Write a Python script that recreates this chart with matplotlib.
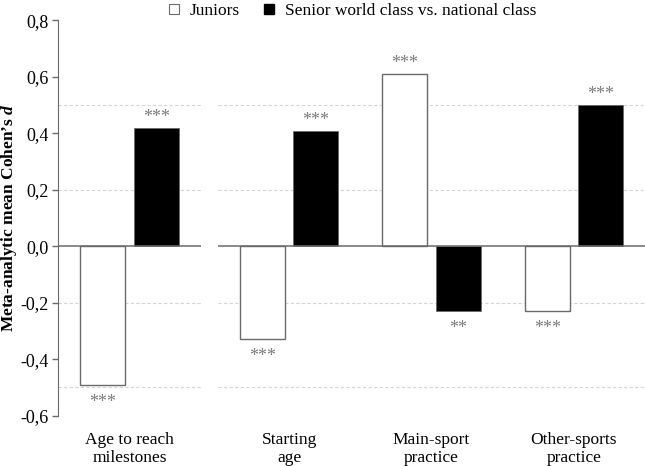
import matplotlib
matplotlib.use("Agg")
from matplotlib import pyplot as plt
from matplotlib import rcParams
from matplotlib.lines import Line2D

rcParams["font.family"] = ["Liberation Serif", "DejaVu Serif"]
rcParams["mathtext.fontset"] = "custom"
rcParams["mathtext.rm"] = "Liberation Serif"
rcParams["mathtext.it"] = "Liberation Serif:italic"
rcParams["mathtext.bf"] = "Liberation Serif:bold"
rcParams["mathtext.bfit"] = "Liberation Serif:bold:italic"

darkgray = "#6a6a6a"
gridgray = "#d4d4d4"
stargray = "#7a7a7a"

categories = ["Age to reach\nmilestones", "Starting\nage", "Main-sport\npractice", "Other-sports\npractice"]
juniors = [-0.49, -0.33, 0.61, -0.23]
seniors = [0.42, 0.41, -0.23, 0.50]
juniors_sig = ["***", "***", "***", "***"]
seniors_sig = ["***", "***", "**", "***"]
yticks = [-0.6, -0.4, -0.2, 0.0, 0.2, 0.4, 0.6, 0.8]
ytick_labels = ["-0,6", "-0,4", "-0,2", "0,0", "0,2", "0,4", "0,6", "0,8"]
gridlines = [-0.5, -0.2, 0.2, 0.5]

fig = plt.figure(figsize=(6.45, 4.66), dpi=100)
W, H = 645, 466
bottom, height = 50.3 / H, 395.3 / H
ax_left = fig.add_axes([58 / W, bottom, 143 / W, height])
ax_right = fig.add_axes([218 / W, bottom, 427 / W, height])

width = 0.317
offset = 0.187

panels = [(ax_left, slice(0, 1)), (ax_right, slice(1, 4))]
for ax, sl in panels:
    cats = categories[sl]
    jun = juniors[sl]
    sen = seniors[sl]
    jsig = juniors_sig[sl]
    ssig = seniors_sig[sl]
    x = list(range(len(cats)))

    for g in gridlines:
        ax.axhline(g, color=gridgray, lw=0.8, ls=(0, (3, 2)), zorder=0)
    ax.axhline(0, color=darkgray, lw=1.1, zorder=3)

    ax.bar([i - offset for i in x], jun, width, color="white", edgecolor=darkgray, lw=1, zorder=2)
    ax.bar([i + offset for i in x], sen, width, color="black", edgecolor=darkgray, lw=0.6, zorder=2)

    for xs, vals, sigs in [([i - offset for i in x], jun, jsig), ([i + offset for i in x], sen, ssig)]:
        for xi, v, s in zip(xs, vals, sigs):
            ax.annotate(s, (xi, v), xytext=(0, 7.5 if v > 0 else -12.5), textcoords="offset points",
                        ha="center", va="center", color=stargray, fontsize=13)

    ax.set_xlim(-0.5, len(cats) - 0.5)
    ax.set_ylim(-0.6, 0.8)
    ax.set_xticks(x)
    ax.set_xticklabels(cats, fontsize=12.5, linespacing=1.12)
    ax.tick_params(axis="x", length=0, pad=12)
    for sp in ["top", "right", "bottom"]:
        ax.spines[sp].set_visible(False)

ax_right.spines["left"].set_visible(False)
ax_right.set_yticks([])

ax_left.set_yticks(yticks)
ax_left.set_yticklabels(ytick_labels, fontsize=13)
ax_left.spines["left"].set_color(darkgray)
ax_left.tick_params(axis="y", length=4, width=1, color=darkgray, pad=3)

fig.text(9 / W, 1 - 217.5 / H, "Meta-analytic mean Cohen\u2019s $\\mathbfit{d}$", rotation=90,
         ha="center", va="center", fontsize=12.5, fontweight="bold")

handles = [
    Line2D([], [], marker="s", ls="none", markersize=7, markerfacecolor="white", markeredgecolor=darkgray, markeredgewidth=0.8),
    Line2D([], [], marker="s", ls="none", markersize=7, markerfacecolor="black", markeredgecolor="black"),
]
fig.legend(handles, ["Juniors", "Senior world class vs. national class"], loc="upper center",
           bbox_to_anchor=(0.545, 1.027), ncol=2, frameon=False, fontsize=12.5,
           handlelength=0.8, handletextpad=0.5, columnspacing=1.3)

fig.savefig("out.png", dpi=100)
